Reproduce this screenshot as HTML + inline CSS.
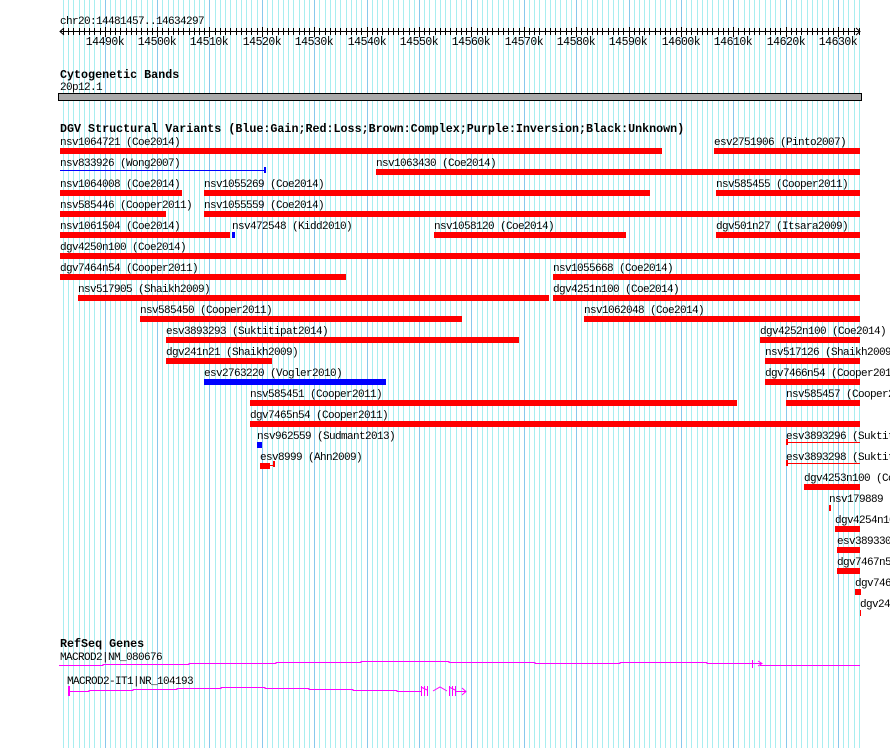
<!DOCTYPE html>
<html><head><meta charset="utf-8"><style>
html,body{margin:0;padding:0;background:#fff;width:890px;height:748px;overflow:hidden}
svg text{font-family:"Liberation Mono","DejaVu Sans Mono",monospace;font-size:11px;letter-spacing:-0.6px;fill:#000}
svg text.b{font-weight:bold;font-size:11.7px;letter-spacing:0}
svg text.t{font-size:11.5px;letter-spacing:-0.5px}
</style></head><body>
<svg id="s" width="890" height="748" xmlns="http://www.w3.org/2000/svg">
<g id="grid"></g>
<g id="ruler"></g>
<text x="60" y="24">chr20:14481457..14634297</text>
<line x1="60" y1="31.5" x2="860" y2="31.5" stroke="#000"/>
<path d="M64 28 L60 31.5 L64 35 M856 28 L860 31.5 L856 35" stroke="#000" fill="none"/>
<g>
<text class="t" x="105" y="45" text-anchor="middle">14490k</text>
<text class="t" x="157" y="45" text-anchor="middle">14500k</text>
<text class="t" x="209" y="45" text-anchor="middle">14510k</text>
<text class="t" x="262" y="45" text-anchor="middle">14520k</text>
<text class="t" x="314" y="45" text-anchor="middle">14530k</text>
<text class="t" x="367" y="45" text-anchor="middle">14540k</text>
<text class="t" x="419" y="45" text-anchor="middle">14550k</text>
<text class="t" x="471" y="45" text-anchor="middle">14560k</text>
<text class="t" x="524" y="45" text-anchor="middle">14570k</text>
<text class="t" x="576" y="45" text-anchor="middle">14580k</text>
<text class="t" x="628" y="45" text-anchor="middle">14590k</text>
<text class="t" x="681" y="45" text-anchor="middle">14600k</text>
<text class="t" x="733" y="45" text-anchor="middle">14610k</text>
<text class="t" x="786" y="45" text-anchor="middle">14620k</text>
<text class="t" x="838" y="45" text-anchor="middle">14630k</text>
</g>
<text class="b" x="60" y="78">Cytogenetic Bands</text>
<text x="60" y="90">20p12.1</text>
<rect x="58.5" y="93.5" width="803" height="7" fill="#aaa" stroke="#000"/>
<text class="b" x="60" y="132">DGV Structural Variants (Blue:Gain;Red:Loss;Brown:Complex;Purple:Inversion;Black:Unknown)</text>
<g id="feat" fill="#f00"></g>
<g id="labels">
<text x="60" y="145">nsv1064721 (Coe2014)</text>
<text x="714" y="145">esv2751906 (Pinto2007)</text>
<text x="60" y="166">nsv833926 (Wong2007)</text>
<text x="376" y="166">nsv1063430 (Coe2014)</text>
<text x="60" y="187">nsv1064008 (Coe2014)</text>
<text x="204" y="187">nsv1055269 (Coe2014)</text>
<text x="716" y="187">nsv585455 (Cooper2011)</text>
<text x="60" y="208">nsv585446 (Cooper2011)</text>
<text x="204" y="208">nsv1055559 (Coe2014)</text>
<text x="60" y="229">nsv1061504 (Coe2014)</text>
<text x="232" y="229">nsv472548 (Kidd2010)</text>
<text x="434" y="229">nsv1058120 (Coe2014)</text>
<text x="716" y="229">dgv501n27 (Itsara2009)</text>
<text x="60" y="250">dgv4250n100 (Coe2014)</text>
<text x="60" y="271">dgv7464n54 (Cooper2011)</text>
<text x="553" y="271">nsv1055668 (Coe2014)</text>
<text x="78" y="292">nsv517905 (Shaikh2009)</text>
<text x="553" y="292">dgv4251n100 (Coe2014)</text>
<text x="140" y="313">nsv585450 (Cooper2011)</text>
<text x="584" y="313">nsv1062048 (Coe2014)</text>
<text x="166" y="334">esv3893293 (Suktitipat2014)</text>
<text x="760" y="334">dgv4252n100 (Coe2014)</text>
<text x="166" y="355">dgv241n21 (Shaikh2009)</text>
<text x="765" y="355">nsv517126 (Shaikh2009)</text>
<text x="204" y="376">esv2763220 (Vogler2010)</text>
<text x="765" y="376">dgv7466n54 (Cooper2011)</text>
<text x="250" y="397">nsv585451 (Cooper2011)</text>
<text x="786" y="397">nsv585457 (Cooper2011)</text>
<text x="250" y="418">dgv7465n54 (Cooper2011)</text>
<text x="257" y="439">nsv962559 (Sudmant2013)</text>
<text x="786" y="439">esv3893296 (Suktitipat2014)</text>
<text x="260" y="460">esv8999 (Ahn2009)</text>
<text x="786" y="460">esv3893298 (Suktitipat2014)</text>
<text x="804" y="481">dgv4253n100 (Coe2014)</text>
<text x="829" y="502">nsv179889</text>
<text x="835" y="523">dgv4254n100</text>
<text x="837" y="544">esv3893300</text>
<text x="837" y="565">dgv7467n54</text>
<text x="855" y="586">dgv7468n54</text>
<text x="860" y="607">dgv242n21</text>
</g>
<text class="b" x="60" y="647">RefSeq Genes</text>
<text x="60" y="660">MACROD2|NM_080676</text>
<path d="M59 665.5 H103 V664.5 H189 V663.5 H276 V662.5 H361 V661.5 H449 V662.5 H535 V663.5 H620 V662.5 H707 V663.5 H752 M752.5 660 V668 M760 665.5 H860" stroke="#f0f" fill="none"/>
<path d="M752 663.5 H762 M758 661 L762 663.5 L758 666" stroke="#f0f" fill="none"/>
<text x="67" y="684">MACROD2-IT1|NR_104193</text>
<path d="M69 691.5 H89 V690.5 H133 V689.5 H177 V688.5 H221 V687.5 H265 V688.5 H309 V689.5 H353 V690.5 H397 V691.5 H421" stroke="#f0f" fill="none"/>
<rect x="68" y="686" width="2" height="10" fill="#f0f"/>
<path d="M421.5 686 V696 M424.5 686 V696 M427.5 686 V696 M421 687 L427 690 M433 691 L440 687 L447 691 M449.5 686 V696 M452.5 686 V696 M455.5 686 V696 M449 687 L455 690 M455 691.5 H466 M462 688 L466 691.5 L462 695" stroke="#f0f" fill="none"/>
</svg>
<script>
var NS="http://www.w3.org/2000/svg";
function px(bp){return 60+(bp-14481457)*5.2376/1000;}
var g=document.getElementById('grid'),r=document.getElementById('ruler');
for(var k=14482;k<=14634;k++){
 var x=Math.round(px(k*1000))+0.5,maj=k%10==0;
 var l=document.createElementNS(NS,'line');
 l.setAttribute('x1',x);l.setAttribute('x2',x);l.setAttribute('y1',0);l.setAttribute('y2',748);
 l.setAttribute('stroke',maj?'#88c8ec':'#a8eef0');g.appendChild(l);
 var t=document.createElementNS(NS,'line');
 t.setAttribute('x1',x);t.setAttribute('x2',x);t.setAttribute('y1',maj?27:28);t.setAttribute('y2',maj?37:35);
 t.setAttribute('stroke','#000');r.appendChild(t);
}
var f=document.getElementById('feat');
function bar(x1,x2,y,c,h){var e=document.createElementNS(NS,'rect');e.setAttribute('x',x1);e.setAttribute('y',y);e.setAttribute('width',Math.max(1,x2-x1));e.setAttribute('height',h||6);e.setAttribute('fill',c||'#f00');f.appendChild(e);}
var R=[[60,662,148],[714,860,148],[376,860,169],[60,182,190],[204,650,190],[716,860,190],[60,166,211],[204,860,211],
[60,230,232],[434,626,232],[716,860,232],[60,860,253],[60,346,274],[553,860,274],[78,549,295],[553,860,295],
[140,462,316],[584,860,316],[166,519,337],[760,860,337],[166,272,358],[765,860,358],[765,860,379],
[250,737,400],[786,860,400],[250,860,421],[260,270,463],[804,860,484],[829,831,505],[835,860,526],[837,860,547],[837,860,568],[855,861,589],[860,861,610]];
R.forEach(function(a){bar(a[0],a[1],a[2]);});
bar(204,386,379,'#00f');bar(232,235,232,'#00f');bar(257,262,442,'#00f');
bar(60,265,170,'#00f',1);bar(264,266,167,'#00f',6);
bar(786,860,442,'#f00',1);bar(786,788,439,'#f00',6);
bar(786,860,463,'#f00',1);bar(786,788,460,'#f00',6);
bar(270,274,465,'#f00',1);bar(273,275,461,'#f00',6);
</script>
</body></html>
